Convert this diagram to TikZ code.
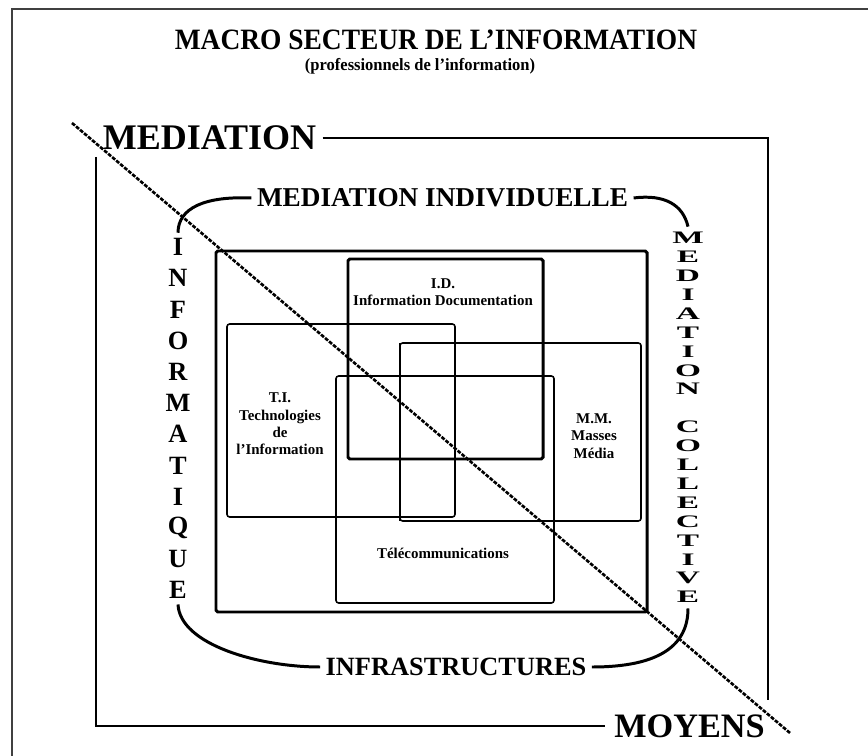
\documentclass[tikz,border=0pt]{standalone}
\usepackage{fontspec}
\setmainfont{Liberation Serif}
\usepackage{graphicx}
\usepackage{tikz}
\tikzset{cadre/.style={
    draw=black!75,
    line width=1.1pt}}
\tikzset{trait/.style={
    draw=black,
    line width=1.1pt}}
\tikzset{diagonale/.style={
    draw=black,
    line width=1.5pt,
    dash pattern=on 2.2pt off 0.8pt}}
\tikzset{courbe/.style={
    draw=black,
    line width=1.7pt}}
\tikzset{boite/.style={
    draw=black,
    line width=1.7pt,
    rounded corners=1pt}}
\tikzset{fine/.style={
    draw=black,
    line width=0.9pt,
    rounded corners=1.5pt}}
\tikzset{grosmot/.style={
    font=\bfseries\fontsize{20.5}{22}\selectfont,
    inner sep=0pt}}
\tikzset{moyenmot/.style={
    font=\bfseries\fontsize{15.5}{17}\selectfont,
    inner ysep=0pt,
    inner xsep=3pt}}
\tikzset{lettre/.style={
    font=\bfseries\fontsize{15}{16}\selectfont,
    inner sep=3pt}}
\tikzset{lettrelarge/.style={
    font=\bfseries\fontsize{10}{11}\selectfont,
    inner sep=3pt}}
\tikzset{etiquette/.style={
    font=\bfseries\fontsize{8.5}{10}\selectfont,
    align=center,
    inner sep=0pt}}

\begin{document}
\begin{tikzpicture}[x=0.02cm,y=-0.02cm]
\useasboundingbox (0,0) rectangle (868,756);
\coordinate (cadreH) at (868,9);
\coordinate (cadreC) at (12,9);
\coordinate (cadreB) at (12,756);
\coordinate (diagA) at (72,123);
\coordinate (diagB) at (790,733);
\coordinate (coinHD) at (768,700);
\coordinate (coinHG) at (96,157);

\draw[cadre] (cadreH) -- (cadreC) -- (cadreB);

% titre
\node[anchor=base,inner sep=0pt,font=\bfseries\fontsize{16.8}{18}\selectfont] (titre) at (436,50) {\scalebox{0.93}[1]{MACRO SECTEUR DE L’INFORMATION}};
\node[anchor=base,inner sep=0pt,font=\bfseries\fontsize{9.8}{11}\selectfont] (soustitre) at (420,71) {\scalebox{0.96}[1]{(professionnels de l’information)}};

% mediation / moyens
\node[grosmot,inner xsep=3.5pt] (mediation) at (209.5,138) {MEDIATION};
\node[grosmot,font=\bfseries\fontsize{19.5}{21}\selectfont,inner xsep=5pt] (moyens) at (689.5,726) {MOYENS};
\draw[trait] (mediation.east) -| (coinHD);
\draw[trait] (coinHG) |- (moyens.west);

% anneau
\node[moyenmot] (indiv) at (442.5,198) {MEDIATION INDIVIDUELLE};
\node[moyenmot,font=\bfseries\fontsize{15}{16}\selectfont] (infra) at (456,667) {INFRASTRUCTURES};
\foreach \l [count=\i] in {I,N,F,O,R,M,A,T,I,Q,U,E}
  \node[lettre] (info-\i) at (178,{247+31.2*(\i-1)}) {\l};
\foreach \l [count=\i] in {M,E,D,I,A,T,I,O,N}
  \node[lettrelarge] (coll-\i) at (688,{238+18.9*(\i-1)}) {\scalebox{1.9}[1]{\l}};
\foreach \l [count=\i from 11] in {C,O,L,L,E,C,T,I,V,E}
  \node[lettrelarge] (coll-\i) at (688,{238+18.9*(\i-1)}) {\scalebox{1.9}[1]{\l}};

\draw[courbe] (indiv.west) .. controls (205,196) and (178,208) .. (info-1.north);
\draw[courbe] (indiv.east) .. controls (665,194) and (683,205) .. (coll-1.north);
\draw[courbe] (info-12.south) .. controls (180,645) and (260,667) .. (infra.west);
\draw[courbe] (infra.east) .. controls (660,667) and (688,645) .. (coll-20.south);

% secteurs
\draw[boite] (216,251) rectangle (647,612);
\draw[boite] (348,259) rectangle (543,459);
\draw[fine] (227,324) rectangle (455,517);
\draw[fine] (400,343) rectangle (641,521);
\draw[line width=1.5pt] (400,343) -- (400,521);
\draw[fine] (336,376) rectangle (554,603);

\node[etiquette] (id) at (443,292) {I.D.\\Information Documentation};
\node[etiquette,font=\bfseries\fontsize{8.5}{9.8}\selectfont] (ti) at (280,424) {T.I.\\Technologies\\de\\l’Information};
\node[etiquette] (mm) at (594,436) {M.M.\\Masses\\Média};
\node[etiquette] (telecom) at (443,553) {Télécommunications};

\draw[diagonale] (diagA) -- (diagB);
\end{tikzpicture}
\end{document}
